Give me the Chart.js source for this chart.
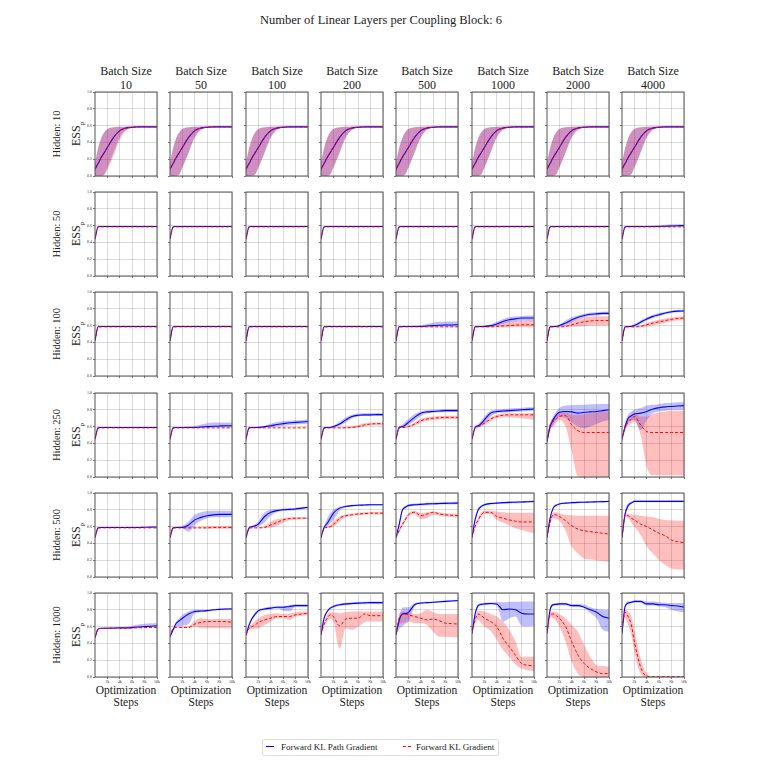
<!DOCTYPE html>
<html>
<head>
<meta charset="utf-8">
<script src="https://cdn.jsdelivr.net/npm/chart.js"></script>
<style>
body{margin:0;background:#fff;}
#fig{position:relative;width:761px;height:761px;overflow:hidden;font-family:"Liberation Serif","DejaVu Serif",serif;color:#222;}
.lbl{position:absolute;white-space:nowrap;text-align:center;}
canvas{position:absolute;}
#legend{position:absolute;left:262px;top:739px;width:235px;height:15px;border:1px solid #ddd;border-radius:2px;font-size:9px;}
#legend span{position:absolute;top:2px;}
</style>
</head>
<body>
<div id="fig">
  <div id="legend">
    <span style="left:3px;top:6px;width:8px;border-top:1.2px solid #0000ff;"></span>
    <span style="left:18px;">Forward KL Path Gradient</span>
    <span style="left:140px;top:6px;width:8px;border-top:1px dashed #ff0000;"></span>
    <span style="left:153px;">Forward KL Gradient</span>
  </div>
</div>
<script>
// axes
const steps = [0,500,1000,1500,2000,3000,4000,5000,6000,7000,8000,9000,10000];
const batchSizes = [10,50,100,200,500,1000,2000,4000];
const hiddenSizes = [10,50,100,250,500,1000];
const yTicks = [0,0.2,0.4,0.6,0.8,1.0];
const yTickLabels = ['0.0','0.2','0.4','0.6','0.8','1.0'];
const xTicks = [2000,4000,6000,8000,10000];
const xTickLabels = ['2k','4k','6k','8k','10k'];

// shared curves
const riseMid = [0.08,0.15,0.22,0.28,0.34,0.46,0.54,0.57,0.58,0.585,0.585,0.585,0.585];
const riseHi = [0.16,0.33,0.45,0.52,0.56,0.58,0.585,0.59,0.59,0.59,0.59,0.59,0.59];
const riseLo = [0,0,0,0.02,0.1,0.28,0.46,0.55,0.575,0.58,0.58,0.58,0.58];
const riseLoWide = [0,0,0,0.01,0.07,0.24,0.43,0.535,0.57,0.579,0.58,0.58,0.58];
const flat50P = [0.44,0.585,0.59,0.59,0.59,0.59,0.59,0.59,0.59,0.59,0.59,0.59,0.59];
const flat50G = [0.44,0.58,0.585,0.585,0.585,0.585,0.585,0.585,0.585,0.585,0.585,0.585,0.585];
const flat100P = [0.42,0.585,0.59,0.59,0.59,0.59,0.59,0.59,0.59,0.59,0.59,0.59,0.59];
const flat100G = [0.42,0.58,0.585,0.585,0.585,0.585,0.585,0.585,0.585,0.585,0.585,0.585,0.585];
const flat250P = [0.45,0.585,0.59,0.59,0.59,0.59,0.59,0.59,0.59,0.59,0.59,0.59,0.59];
const flat250G = [0.45,0.58,0.585,0.585,0.585,0.585,0.585,0.585,0.585,0.585,0.585,0.585,0.585];
const flat500P = [0.47,0.585,0.59,0.59,0.59,0.59,0.59,0.59,0.59,0.59,0.592,0.594,0.595];
const flat500G = [0.47,0.58,0.585,0.585,0.585,0.585,0.585,0.585,0.585,0.585,0.585,0.585,0.585];

// Hidden: 10
const h10PathMid = [riseMid,riseMid,riseMid,riseMid,riseMid,riseMid,riseMid,riseMid];
const h10PathLo = [riseLo,riseLo,riseLo,riseLo,riseLo,riseLo,riseLo,riseLo];
const h10PathHi = [riseHi,riseHi,riseHi,riseHi,riseHi,riseHi,riseHi,riseHi];
const h10GradMid = [riseMid,riseMid,riseMid,riseMid,riseMid,riseMid,riseMid,riseMid];
const h10GradLo = [riseLoWide,riseLo,riseLo,riseLo,riseLo,riseLo,riseLo,riseLo];
const h10GradHi = [riseHi,riseHi,riseHi,riseHi,riseHi,riseHi,riseHi,riseHi];

// Hidden: 50
const h50PathMid = [flat50P,flat50P,flat50P,flat50P,flat50P,flat50P,flat50P,
  [0.44,0.585,0.59,0.59,0.59,0.59,0.59,0.59,0.59,0.592,0.595,0.598,0.6]];
const h50PathLo = [null,null,null,null,null,null,null,
  [0.43,0.58,0.585,0.585,0.585,0.585,0.585,0.585,0.585,0.585,0.585,0.585,0.585]];
const h50PathHi = [null,null,null,null,null,null,null,
  [0.45,0.59,0.595,0.595,0.595,0.595,0.595,0.6,0.605,0.61,0.615,0.615,0.615]];
const h50GradMid = [flat50G,flat50G,flat50G,flat50G,flat50G,flat50G,flat50G,flat50G];
const h50GradLo = [null,null,null,null,null,null,null,null];
const h50GradHi = [null,null,null,null,null,null,null,null];

// Hidden: 100
const h100PathMid = [flat100P,flat100P,flat100P,flat100P,
  [0.42,0.585,0.59,0.59,0.59,0.59,0.59,0.595,0.6,0.605,0.607,0.608,0.61],
  [0.42,0.585,0.59,0.59,0.59,0.6,0.62,0.65,0.67,0.68,0.69,0.69,0.69],
  [0.42,0.585,0.59,0.59,0.6,0.63,0.67,0.7,0.72,0.735,0.74,0.745,0.745],
  [0.42,0.585,0.59,0.59,0.6,0.64,0.68,0.71,0.73,0.75,0.765,0.772,0.775]];
const h100PathLo = [null,null,null,null,
  [0.41,0.58,0.585,0.585,0.585,0.585,0.585,0.585,0.585,0.585,0.585,0.585,0.585],
  [0.41,0.58,0.585,0.585,0.585,0.59,0.6,0.62,0.64,0.65,0.66,0.66,0.66],
  [0.41,0.58,0.585,0.585,0.59,0.61,0.64,0.68,0.7,0.715,0.72,0.725,0.725],
  [0.41,0.58,0.585,0.585,0.59,0.62,0.66,0.69,0.715,0.735,0.75,0.758,0.76]];
const h100PathHi = [null,null,null,null,
  [0.43,0.59,0.595,0.595,0.595,0.6,0.605,0.62,0.635,0.645,0.65,0.65,0.65],
  [0.43,0.59,0.595,0.595,0.6,0.61,0.645,0.68,0.7,0.71,0.715,0.72,0.72],
  [0.43,0.59,0.595,0.6,0.61,0.66,0.7,0.72,0.74,0.755,0.76,0.765,0.765],
  [0.43,0.59,0.595,0.6,0.615,0.66,0.7,0.73,0.75,0.765,0.78,0.785,0.79]];
const h100GradMid = [flat100G,flat100G,flat100G,flat100G,flat100G,
  [0.42,0.58,0.585,0.585,0.585,0.585,0.59,0.595,0.6,0.605,0.61,0.61,0.61],
  [0.42,0.58,0.585,0.585,0.585,0.59,0.61,0.63,0.645,0.655,0.66,0.66,0.66],
  [0.42,0.58,0.585,0.585,0.585,0.59,0.61,0.63,0.645,0.66,0.675,0.685,0.69]];
const h100GradLo = [null,null,null,null,null,
  [0.41,0.575,0.58,0.58,0.58,0.58,0.58,0.58,0.58,0.58,0.58,0.58,0.58],
  [0.41,0.575,0.58,0.58,0.58,0.58,0.585,0.59,0.595,0.6,0.6,0.6,0.6],
  [0.41,0.575,0.58,0.58,0.58,0.58,0.59,0.605,0.62,0.635,0.65,0.66,0.665]];
const h100GradHi = [null,null,null,null,null,
  [0.43,0.585,0.59,0.59,0.59,0.595,0.61,0.63,0.645,0.655,0.66,0.665,0.665],
  [0.43,0.585,0.59,0.59,0.59,0.61,0.65,0.68,0.695,0.705,0.71,0.71,0.71],
  [0.43,0.585,0.59,0.59,0.59,0.6,0.63,0.655,0.67,0.685,0.695,0.705,0.71]];

// Hidden: 250
const h250PathMid = [flat250P,
  [0.45,0.585,0.59,0.59,0.59,0.59,0.59,0.595,0.6,0.605,0.608,0.61,0.61],
  [0.45,0.585,0.59,0.59,0.59,0.6,0.61,0.625,0.635,0.645,0.65,0.655,0.66],
  [0.45,0.585,0.59,0.59,0.6,0.63,0.68,0.72,0.735,0.74,0.74,0.742,0.742],
  [0.45,0.59,0.6,0.62,0.65,0.71,0.76,0.775,0.78,0.785,0.79,0.79,0.79],
  [0.45,0.59,0.61,0.64,0.68,0.76,0.78,0.785,0.79,0.795,0.8,0.805,0.81],
  [0.42,0.6,0.68,0.74,0.77,0.78,0.775,0.76,0.77,0.775,0.78,0.79,0.8],
  [0.45,0.6,0.7,0.73,0.75,0.76,0.78,0.81,0.825,0.835,0.84,0.845,0.85]];
const h250PathLo = [null,
  [0.44,0.58,0.585,0.585,0.585,0.585,0.585,0.585,0.585,0.59,0.59,0.59,0.59],
  [0.44,0.58,0.585,0.585,0.585,0.59,0.595,0.6,0.61,0.62,0.625,0.63,0.635],
  [0.44,0.58,0.585,0.585,0.59,0.61,0.65,0.7,0.72,0.725,0.725,0.725,0.725],
  [0.44,0.58,0.59,0.6,0.62,0.67,0.73,0.755,0.765,0.77,0.775,0.775,0.775],
  [0.44,0.58,0.59,0.61,0.64,0.72,0.76,0.765,0.77,0.775,0.78,0.785,0.79],
  [0.4,0.55,0.62,0.68,0.72,0.7,0.65,0.6,0.58,0.6,0.63,0.66,0.68],
  [0.43,0.55,0.64,0.68,0.68,0.56,0.68,0.76,0.78,0.79,0.8,0.8,0.8]];
const h250PathHi = [null,
  [0.46,0.59,0.595,0.595,0.595,0.6,0.61,0.625,0.64,0.648,0.65,0.65,0.65],
  [0.46,0.59,0.595,0.595,0.6,0.61,0.635,0.655,0.665,0.67,0.675,0.68,0.685],
  [0.46,0.59,0.595,0.6,0.61,0.655,0.71,0.74,0.755,0.76,0.76,0.762,0.762],
  [0.46,0.6,0.62,0.66,0.69,0.75,0.78,0.795,0.8,0.805,0.81,0.81,0.81],
  [0.46,0.6,0.63,0.67,0.72,0.79,0.8,0.81,0.815,0.82,0.825,0.83,0.83],
  [0.45,0.64,0.72,0.78,0.82,0.85,0.855,0.86,0.86,0.865,0.87,0.87,0.87],
  [0.47,0.65,0.74,0.78,0.8,0.82,0.85,0.86,0.87,0.88,0.885,0.89,0.89]];
const h250GradMid = [flat250G,flat250G,flat250G,
  [0.45,0.58,0.585,0.585,0.585,0.585,0.585,0.59,0.6,0.62,0.63,0.635,0.635],
  [0.45,0.58,0.59,0.59,0.6,0.63,0.67,0.69,0.7,0.705,0.71,0.71,0.71],
  [0.45,0.585,0.6,0.62,0.64,0.69,0.72,0.735,0.74,0.74,0.74,0.74,0.74],
  [0.42,0.62,0.66,0.69,0.72,0.73,0.62,0.55,0.53,0.53,0.53,0.53,0.53],
  [0.45,0.6,0.65,0.69,0.72,0.62,0.54,0.53,0.53,0.53,0.53,0.53,0.53]];
const h250GradLo = [null,null,null,
  [0.44,0.575,0.58,0.58,0.58,0.58,0.58,0.58,0.585,0.6,0.615,0.62,0.62],
  [0.44,0.575,0.585,0.585,0.59,0.61,0.65,0.67,0.68,0.685,0.69,0.69,0.69],
  [0.44,0.575,0.59,0.6,0.62,0.67,0.7,0.71,0.71,0.705,0.7,0.69,0.68],
  [0.4,0.58,0.6,0.65,0.68,0.6,0.3,0.01,0,0,0,0,0],
  [0.43,0.57,0.61,0.64,0.66,0.5,0.12,0.02,0.02,0.02,0.02,0.02,0.02]];
const h250GradHi = [null,null,null,
  [0.46,0.585,0.59,0.59,0.59,0.59,0.595,0.605,0.62,0.64,0.645,0.65,0.65],
  [0.46,0.59,0.6,0.6,0.61,0.65,0.69,0.71,0.72,0.725,0.73,0.73,0.73],
  [0.46,0.595,0.61,0.64,0.66,0.71,0.74,0.755,0.76,0.76,0.76,0.76,0.76],
  [0.45,0.64,0.7,0.73,0.76,0.77,0.74,0.74,0.75,0.76,0.77,0.78,0.78],
  [0.47,0.63,0.69,0.74,0.77,0.72,0.72,0.75,0.77,0.78,0.79,0.79,0.79]];

// Hidden: 500
const h500PathMid = [flat500P,
  [0.47,0.585,0.59,0.59,0.59,0.62,0.68,0.71,0.73,0.74,0.745,0.745,0.745],
  [0.47,0.585,0.6,0.61,0.63,0.72,0.77,0.79,0.8,0.805,0.81,0.82,0.83],
  [0.47,0.59,0.64,0.7,0.76,0.82,0.84,0.85,0.855,0.857,0.86,0.86,0.86],
  [0.47,0.62,0.79,0.83,0.85,0.86,0.865,0.87,0.872,0.875,0.877,0.878,0.88],
  [0.47,0.68,0.8,0.84,0.86,0.875,0.88,0.885,0.888,0.89,0.893,0.896,0.9],
  [0.47,0.7,0.82,0.855,0.87,0.88,0.885,0.888,0.89,0.893,0.895,0.897,0.9],
  [0.47,0.75,0.85,0.88,0.9,0.9,0.9,0.9,0.9,0.9,0.9,0.9,0.9]];
const h500PathLo = [null,
  [0.46,0.58,0.585,0.585,0.58,0.54,0.62,0.67,0.7,0.71,0.71,0.71,0.71],
  [0.46,0.58,0.59,0.595,0.605,0.65,0.73,0.775,0.785,0.79,0.795,0.805,0.815],
  [0.46,0.58,0.6,0.64,0.68,0.79,0.83,0.84,0.845,0.847,0.85,0.85,0.85],
  [0.46,0.59,0.77,0.815,0.835,0.845,0.85,0.855,0.857,0.86,0.862,0.863,0.865],
  [0.46,0.66,0.785,0.828,0.848,0.863,0.868,0.873,0.876,0.878,0.881,0.884,0.888],
  [0.46,0.68,0.805,0.845,0.86,0.87,0.875,0.878,0.88,0.883,0.885,0.887,0.89],
  [0.46,0.71,0.82,0.865,0.89,0.89,0.89,0.89,0.89,0.89,0.89,0.89,0.89]];
const h500PathHi = [null,
  [0.48,0.59,0.595,0.6,0.61,0.66,0.74,0.77,0.785,0.79,0.79,0.79,0.79],
  [0.48,0.59,0.61,0.63,0.66,0.77,0.8,0.81,0.815,0.82,0.825,0.83,0.84],
  [0.48,0.6,0.7,0.76,0.8,0.835,0.85,0.86,0.865,0.867,0.87,0.87,0.87],
  [0.48,0.65,0.81,0.845,0.865,0.875,0.88,0.885,0.887,0.89,0.892,0.893,0.895],
  [0.48,0.7,0.815,0.852,0.872,0.887,0.892,0.897,0.9,0.902,0.905,0.908,0.912],
  [0.48,0.72,0.835,0.865,0.88,0.89,0.895,0.898,0.9,0.903,0.905,0.907,0.91],
  [0.48,0.79,0.88,0.895,0.91,0.91,0.91,0.91,0.91,0.91,0.91,0.91,0.91]];
const h500GradMid = [flat500G,
  [0.47,0.58,0.585,0.585,0.585,0.585,0.585,0.585,0.585,0.59,0.59,0.59,0.59],
  [0.47,0.58,0.585,0.585,0.585,0.59,0.62,0.65,0.68,0.695,0.7,0.7,0.7],
  [0.47,0.58,0.59,0.6,0.62,0.7,0.73,0.74,0.75,0.755,0.76,0.76,0.76],
  [0.47,0.55,0.62,0.68,0.74,0.77,0.73,0.75,0.77,0.75,0.74,0.735,0.73],
  [0.47,0.6,0.68,0.74,0.77,0.77,0.72,0.7,0.68,0.665,0.655,0.655,0.655],
  [0.47,0.65,0.74,0.74,0.72,0.67,0.61,0.57,0.55,0.54,0.53,0.52,0.51],
  [0.47,0.74,0.73,0.7,0.68,0.63,0.6,0.56,0.52,0.49,0.44,0.42,0.41]];
const h500GradLo = [null,
  [0.46,0.575,0.58,0.58,0.58,0.58,0.58,0.58,0.575,0.575,0.575,0.575,0.575],
  [0.46,0.575,0.58,0.58,0.58,0.58,0.59,0.61,0.65,0.675,0.685,0.69,0.69],
  [0.46,0.575,0.585,0.59,0.6,0.66,0.71,0.725,0.735,0.74,0.745,0.745,0.745],
  [0.46,0.53,0.6,0.66,0.72,0.75,0.69,0.7,0.74,0.73,0.72,0.715,0.71],
  [0.46,0.58,0.65,0.71,0.75,0.75,0.68,0.65,0.62,0.58,0.56,0.54,0.52],
  [0.46,0.62,0.7,0.69,0.67,0.55,0.36,0.28,0.22,0.21,0.2,0.19,0.18],
  [0.46,0.72,0.7,0.65,0.6,0.5,0.36,0.28,0.2,0.14,0.1,0.09,0.09]];
const h500GradHi = [null,
  [0.48,0.585,0.59,0.59,0.59,0.59,0.59,0.595,0.6,0.605,0.605,0.605,0.605],
  [0.48,0.585,0.59,0.59,0.59,0.6,0.66,0.69,0.7,0.71,0.71,0.71,0.71],
  [0.48,0.585,0.6,0.62,0.66,0.72,0.745,0.755,0.765,0.77,0.775,0.775,0.775],
  [0.48,0.57,0.65,0.71,0.76,0.79,0.76,0.77,0.78,0.77,0.76,0.755,0.75],
  [0.48,0.62,0.71,0.77,0.79,0.79,0.78,0.77,0.765,0.765,0.765,0.765,0.765],
  [0.48,0.68,0.77,0.77,0.76,0.74,0.735,0.73,0.73,0.73,0.73,0.73,0.73],
  [0.48,0.76,0.75,0.745,0.74,0.73,0.72,0.71,0.69,0.68,0.675,0.67,0.67]];

// Hidden: 1000
const h1000PathMid = [
  [0.47,0.57,0.58,0.58,0.58,0.583,0.585,0.585,0.588,0.595,0.6,0.605,0.61],
  [0.48,0.56,0.64,0.67,0.7,0.75,0.78,0.785,0.79,0.8,0.805,0.81,0.81],
  [0.5,0.62,0.7,0.75,0.79,0.81,0.82,0.83,0.83,0.84,0.85,0.85,0.85],
  [0.5,0.7,0.78,0.82,0.84,0.86,0.87,0.875,0.88,0.882,0.885,0.885,0.885],
  [0.5,0.67,0.75,0.755,0.77,0.86,0.88,0.885,0.89,0.895,0.9,0.905,0.91],
  [0.52,0.75,0.85,0.865,0.87,0.875,0.87,0.8,0.81,0.8,0.76,0.75,0.75],
  [0.52,0.8,0.86,0.865,0.87,0.87,0.85,0.85,0.83,0.8,0.77,0.72,0.7],
  [0.52,0.84,0.88,0.89,0.9,0.9,0.87,0.87,0.86,0.86,0.85,0.845,0.83]];
const h1000PathLo = [
  [0.46,0.565,0.575,0.575,0.575,0.578,0.58,0.58,0.582,0.585,0.588,0.59,0.592],
  [0.47,0.55,0.6,0.6,0.61,0.63,0.76,0.77,0.78,0.79,0.795,0.8,0.8],
  [0.49,0.6,0.68,0.73,0.77,0.795,0.805,0.815,0.79,0.78,0.835,0.835,0.835],
  [0.49,0.685,0.765,0.805,0.825,0.845,0.855,0.86,0.865,0.867,0.87,0.87,0.87],
  [0.49,0.57,0.6,0.63,0.66,0.84,0.87,0.875,0.88,0.885,0.89,0.895,0.9],
  [0.51,0.72,0.83,0.85,0.855,0.86,0.85,0.66,0.7,0.72,0.61,0.6,0.61],
  [0.51,0.78,0.845,0.85,0.855,0.855,0.835,0.835,0.82,0.76,0.7,0.56,0.54],
  [0.51,0.82,0.86,0.875,0.885,0.885,0.85,0.85,0.84,0.83,0.8,0.78,0.77]];
const h1000PathHi = [
  [0.48,0.575,0.585,0.585,0.585,0.588,0.59,0.595,0.61,0.625,0.635,0.64,0.64],
  [0.49,0.58,0.66,0.7,0.74,0.78,0.8,0.8,0.8,0.81,0.815,0.82,0.82],
  [0.51,0.64,0.72,0.77,0.8,0.825,0.835,0.845,0.845,0.855,0.865,0.865,0.865],
  [0.51,0.715,0.795,0.835,0.855,0.875,0.885,0.89,0.895,0.897,0.9,0.9,0.9],
  [0.51,0.72,0.82,0.83,0.83,0.88,0.89,0.895,0.9,0.905,0.91,0.915,0.92],
  [0.53,0.78,0.87,0.88,0.885,0.89,0.89,0.89,0.895,0.895,0.9,0.9,0.9],
  [0.53,0.82,0.875,0.88,0.885,0.885,0.87,0.87,0.86,0.83,0.81,0.8,0.8],
  [0.53,0.86,0.9,0.905,0.91,0.91,0.9,0.9,0.89,0.885,0.88,0.88,0.88]];
const h1000GradMid = [
  [0.47,0.57,0.578,0.58,0.58,0.58,0.58,0.582,0.584,0.586,0.588,0.59,0.59],
  [0.48,0.58,0.59,0.59,0.59,0.59,0.63,0.65,0.66,0.66,0.66,0.66,0.65],
  [0.5,0.58,0.6,0.62,0.65,0.68,0.7,0.72,0.72,0.72,0.74,0.75,0.76],
  [0.5,0.63,0.7,0.74,0.72,0.61,0.69,0.7,0.7,0.75,0.73,0.73,0.73],
  [0.5,0.7,0.74,0.745,0.74,0.72,0.7,0.68,0.69,0.67,0.64,0.635,0.63],
  [0.52,0.68,0.75,0.73,0.7,0.66,0.6,0.46,0.36,0.26,0.16,0.14,0.13],
  [0.52,0.74,0.75,0.73,0.7,0.6,0.42,0.26,0.16,0.1,0.06,0.04,0.04],
  [0.58,0.77,0.72,0.62,0.42,0.12,0.01,0.005,0.005,0.005,0.005,0.005,0.005]];
const h1000GradLo = [null,
  [0.47,0.575,0.585,0.585,0.585,0.585,0.6,0.58,0.58,0.58,0.58,0.58,0.58],
  [0.49,0.565,0.57,0.575,0.58,0.62,0.66,0.7,0.7,0.68,0.72,0.73,0.74],
  [0.49,0.6,0.66,0.69,0.66,0.34,0.58,0.56,0.6,0.65,0.66,0.66,0.66],
  [0.49,0.62,0.64,0.65,0.66,0.64,0.64,0.62,0.54,0.48,0.48,0.475,0.47],
  [0.51,0.64,0.68,0.64,0.6,0.55,0.44,0.32,0.24,0.15,0.1,0.08,0.07],
  [0.51,0.71,0.7,0.66,0.6,0.42,0.18,0.04,0,0,0,0,0],
  [0.56,0.7,0.62,0.5,0.3,0.04,0,0,0,0,0,0,0]];
const h1000GradHi = [null,
  [0.49,0.585,0.595,0.595,0.595,0.6,0.67,0.7,0.69,0.69,0.69,0.69,0.69],
  [0.51,0.6,0.63,0.67,0.7,0.74,0.75,0.76,0.75,0.755,0.77,0.78,0.78],
  [0.51,0.66,0.74,0.77,0.77,0.76,0.77,0.78,0.78,0.78,0.78,0.78,0.78],
  [0.51,0.74,0.78,0.78,0.77,0.75,0.76,0.8,0.77,0.75,0.75,0.75,0.75],
  [0.53,0.72,0.79,0.785,0.78,0.75,0.72,0.66,0.56,0.43,0.24,0.24,0.24],
  [0.53,0.77,0.78,0.77,0.75,0.7,0.62,0.54,0.38,0.24,0.14,0.13,0.12],
  [0.6,0.8,0.78,0.72,0.55,0.22,0.04,0.01,0.01,0.01,0.01,0.01,0.01]];

const pathMid = [h10PathMid,h50PathMid,h100PathMid,h250PathMid,h500PathMid,h1000PathMid];
const pathLo = [h10PathLo,h50PathLo,h100PathLo,h250PathLo,h500PathLo,h1000PathLo];
const pathHi = [h10PathHi,h50PathHi,h100PathHi,h250PathHi,h500PathHi,h1000PathHi];
const gradMid = [h10GradMid,h50GradMid,h100GradMid,h250GradMid,h500GradMid,h1000GradMid];
const gradLo = [h10GradLo,h50GradLo,h100GradLo,h250GradLo,h500GradLo,h1000GradLo];
const gradHi = [h10GradHi,h50GradHi,h100GradHi,h250GradHi,h500GradHi,h1000GradHi];

const fig = document.getElementById('fig');
const serif = '"Liberation Serif","DejaVu Serif",serif';
const PW = 62, PH = 84;
const colLeft = c => Math.round(95 + 75.3 * c);
const rowTop = r => Math.round(92 + 100.2 * r);

function addText(html, cx, cy, size, rotate, lineH) {
  const d = document.createElement('div');
  d.className = 'lbl';
  d.innerHTML = html;
  d.style.left = cx + 'px';
  d.style.top = cy + 'px';
  d.style.fontSize = size + 'px';
  d.style.lineHeight = (lineH || size * 1.15) + 'px';
  d.style.transform = 'translate(-50%,-50%)' + (rotate ? ' rotate(-90deg)' : '');
  fig.appendChild(d);
}

// frame all four sides like the matplotlib spines
const frame = {
  id: 'frame',
  afterDraw(chart) {
    const a = chart.chartArea, ctx = chart.ctx;
    ctx.save();
    ctx.strokeStyle = '#555';
    ctx.lineWidth = 1;
    ctx.strokeRect(a.left, a.top, a.right - a.left, a.bottom - a.top);
    ctx.restore();
  }
};

function pts(ys) { return ys.map((y, i) => ({x: steps[i], y: y})); }

function makePanel(r, c) {
  const left = colLeft(c), top = rowTop(r);
  const cv = document.createElement('canvas');
  cv.width = PW + 20; cv.height = PH + 16;
  cv.style.width = (PW + 20) + 'px'; cv.style.height = (PH + 16) + 'px';
  cv.style.left = (left - 16) + 'px'; cv.style.top = (top - 4) + 'px';
  fig.appendChild(cv);

  const ds = [];
  function band(lo, hi, col) {
    if (!lo) return;
    ds.push({data: pts(lo), borderWidth: 0, borderColor: 'rgba(0,0,0,0)', fill: false, order: 5});
    ds.push({data: pts(hi), borderWidth: 0, borderColor: 'rgba(0,0,0,0)', fill: '-1', backgroundColor: col, order: 4});
  }
  band(gradLo[r][c], gradHi[r][c], 'rgba(255,0,0,0.25)');
  band(pathLo[r][c], pathHi[r][c], 'rgba(0,0,255,0.25)');
  ds.push({label: 'Forward KL Path Gradient', data: pts(pathMid[r][c]), borderColor: '#0000ff', borderWidth: 1.1, fill: false, order: 1});
  ds.push({label: 'Forward KL Gradient', data: pts(gradMid[r][c]), borderColor: '#ff0000', borderWidth: 1, borderDash: [3, 2], fill: false, order: 0});

  const tickFont = {family: serif, size: 4};
  new Chart(cv, {
    type: 'line',
    data: {datasets: ds},
    plugins: [frame],
    options: {
      responsive: false, animation: false, events: [],
      layout: {padding: {top: 4, right: 4, left: 0, bottom: 0}},
      elements: {point: {radius: 0}, line: {tension: 0.4, cubicInterpolationMode: 'monotone'}},
      plugins: {legend: {display: false}, tooltip: {enabled: false}, filler: {drawTime: 'beforeDatasetsDraw'}},
      scales: {
        x: {
          type: 'linear', min: 0, max: 10000,
          afterBuildTicks: s => { s.ticks = xTicks.map(v => ({value: v})); },
          afterFit: s => { s.height = 12; },
          grid: {color: 'rgba(0,0,0,0.18)', lineWidth: 0.8, tickLength: 2, tickColor: '#555'},
          border: {display: false},
          ticks: {font: tickFont, color: '#333', padding: 1, maxRotation: 0, autoSkip: false,
            callback: (v, i) => r === hiddenSizes.length - 1 ? xTickLabels[i] : ''}
        },
        y: {
          min: 0, max: 1,
          afterBuildTicks: s => { s.ticks = yTicks.map(v => ({value: v})); },
          afterFit: s => { s.width = 16; },
          grid: {color: 'rgba(0,0,0,0.18)', lineWidth: 0.8, tickLength: 2, tickColor: '#555'},
          border: {display: false},
          ticks: {font: tickFont, color: '#333', padding: 1, autoSkip: false,
            callback: (v, i) => c === 0 ? yTickLabels[i] : ''}
        }
      }
    }
  });
}

addText('Number of Linear Layers per Coupling Block: 6', 381, 20, 12.5);
batchSizes.forEach((b, c) => {
  const cx = colLeft(c) + PW / 2;
  addText('Batch Size<br>' + b, cx, 78, 12, false, 14);
  addText('Optimization<br>Steps', cx, 696, 11.5, false, 11.5);
});
hiddenSizes.forEach((h, r) => {
  const cy = rowTop(r) + PH / 2;
  addText('Hidden: ' + h, 57, cy, 10.5, true);
  addText('ESS<sub style="font-size:7px">p</sub>', 80, cy, 12, true);
  batchSizes.forEach((b, c) => makePanel(r, c));
});
</script>
</body>
</html>
